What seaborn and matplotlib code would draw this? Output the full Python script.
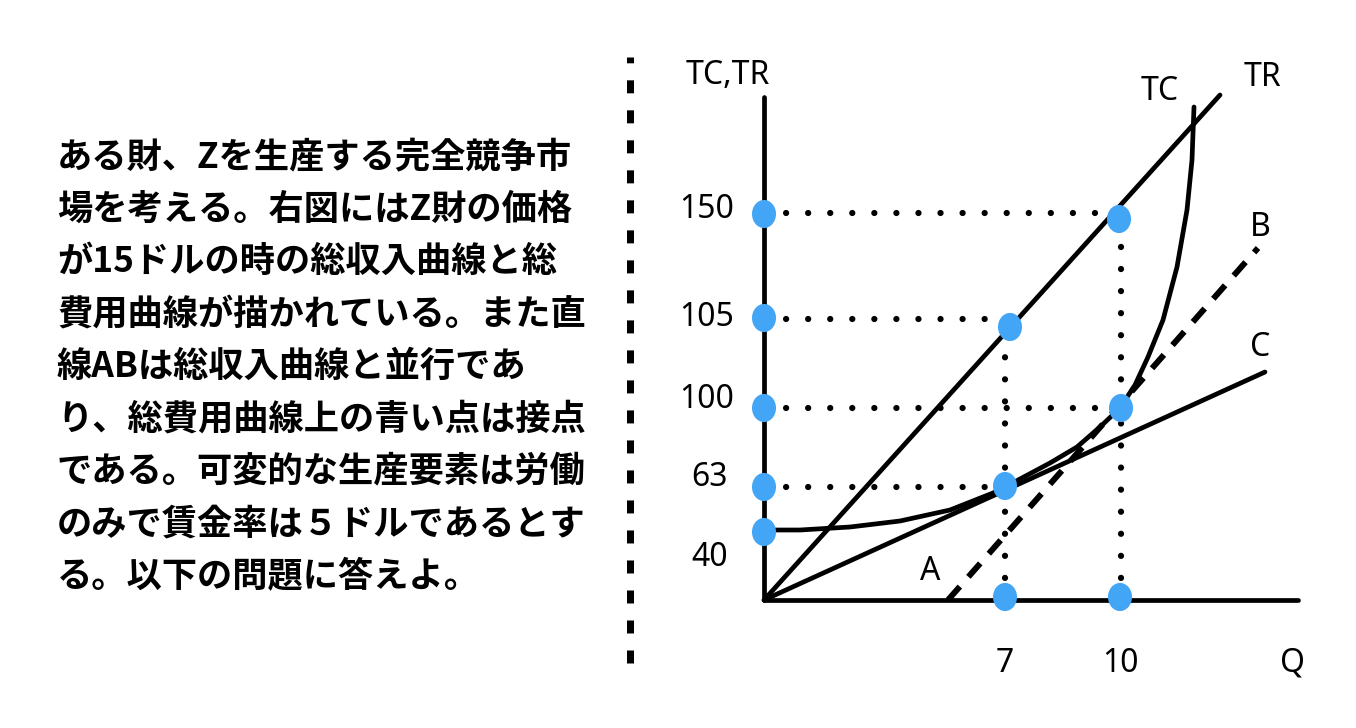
import numpy as np
import pandas as pd
import seaborn as sns
import matplotlib
matplotlib.use("Agg")
import matplotlib.pyplot as plt
from matplotlib.path import Path
from matplotlib.transforms import Affine2D

# ---------------- data (schematic units) ----------------
text_lines = [
    "ある財、Zを生産する完全競争市",
    "場を考える。右図にはZ財の価格",
    "が15ドルの時の総収入曲線と総",
    "費用曲線が描かれている。また直",
    "線ABは総収入曲線と並行であ",
    "り、総費用曲線上の青い点は接点",
    "である。可変的な生産要素は労働",
    "のみで賃金率は５ドルであるとす",
    "る。以下の問題に答えよ。",
]

# Total cost curve (schematic)
tc_x = [0, 36, 86, 136, 186, 229, 241, 286, 313, 336, 356, 371, 384, 399, 413, 423, 428, 430]
tc_y = [70, 70, 73, 79, 90, 107, 113, 137, 153, 173, 192, 215, 243, 280, 333, 390, 440, 493]

# Total revenue line (from origin)
tr_x = [0, 456]
tr_y = [0, 505]

# Line C (ray from origin tangent to TC)
c_x = [0, 501]
c_y = [0, 228]

# Line AB (parallel to TR, tangent to TC)
ab_x = [184, 494]
ab_y = [0, 352]

# Axes extents
yaxis_top = 503
xaxis_right = 534

# Value labels on vertical axis and their schematic positions
y_tick_labels = ["150", "105", "100", "63", "40"]
y_tick_label_pos = [390, 282, 200, 123, 43]
y_dot_pos = [386, 282, 192, 113, 68]

# Value labels on horizontal axis
x_tick_labels = ["7", "10"]
x_tick_pos = [241, 356]

# Points on the curves
curve_dot_x = [355, 246, 357, 241]
curve_dot_y = [381, 273, 192, 114]

# Guide (dotted) lines: horizontal (y, x_end) and vertical (x, y_end)
h_guides_y = [387, 281, 192, 113]
h_guides_xend = [356, 246, 357, 241]
v_guides_x = [241, 357]
v_guides_yend = [275, 384]

# ---------------- style ----------------
sns.set_theme(style="white")
plt.rcParams["font.family"] = ["Noto Sans", "Noto Sans CJK JP", "DejaVu Sans"]

BLUE = "#42A5F5"
LW = 3.4

fig = plt.figure(figsize=(13.56, 7.28), dpi=100)
ax = fig.add_axes([0, 0, 1, 1])
ax.set_xlim(-764, 592)
ax.set_ylim(-128, 600)
ax.axis("off")

# left text block
for i, line in enumerate(text_lines):
    fig.text(57 / 1356, 1 - (157 + i * 52.4) / 728, line, fontsize=25.4,
             fontweight="bold", ha="left", va="center", color="black",
             family=["Noto Sans CJK JP", "DejaVu Sans"])

# separator dashed line
sns.lineplot(x=[-134, -134], y=[-63, 543], ax=ax, color="black", lw=5.04,
             linestyle=(0, (1.857, 2.43)), solid_capstyle="butt",
             dash_capstyle="butt", estimator=None, sort=False)

# axes lines
sns.lineplot(x=[0, 0], y=[0, yaxis_top], ax=ax, color="black", lw=LW,
             estimator=None, sort=False)
sns.lineplot(x=[0, xaxis_right], y=[0, 0], ax=ax, color="black", lw=LW,
             estimator=None, sort=False)

# dotted guides
dot_style = dict(color="black", lw=4.5, linestyle=(0, (0.01, 3.52)),
                 dash_capstyle="round", estimator=None, sort=False)
for yv, xe in zip(h_guides_y, h_guides_xend):
    sns.lineplot(x=[0, xe], y=[yv, yv], ax=ax, **dot_style)
for xv, ye in zip(v_guides_x, v_guides_yend):
    sns.lineplot(x=[xv, xv], y=[0, ye], ax=ax, **dot_style)

# curves
sns.lineplot(x=tr_x, y=tr_y, ax=ax, color="black", lw=LW, estimator=None, sort=False)
sns.lineplot(x=c_x, y=c_y, ax=ax, color="black", lw=LW, estimator=None, sort=False)
sns.lineplot(x=tc_x, y=tc_y, ax=ax, color="black", lw=LW, estimator=None, sort=False)
sns.lineplot(x=ab_x, y=ab_y, ax=ax, color="black", lw=4.3,
             linestyle=(0, (3.0, 2.17)), dash_capstyle="butt",
             estimator=None, sort=False)

# blue points (slightly tall ellipses)
ell = Path.unit_circle().transformed(Affine2D().scale(1.0, 1.17))
dots = pd.DataFrame({
    "x": [0] * len(y_dot_pos) + curve_dot_x + x_tick_pos,
    "y": y_dot_pos + curve_dot_y + [3] * len(x_tick_pos),
})
sns.scatterplot(data=dots, x="x", y="y", ax=ax, marker=ell, s=410,
                color=BLUE, edgecolor="none", linewidth=0, zorder=10)

# labels
lab = dict(fontsize=23, color="black", ha="center", va="center")
ax.text(-36, 525, "TC,TR", **lab)
for t, p in zip(y_tick_labels, y_tick_label_pos):
    ax.text(-57 if len(t) == 3 else -54, p, t, **lab)
for t, p in zip(x_tick_labels, x_tick_pos):
    ax.text(p, -63, t, **lab)
ax.text(529, -63, "Q", **lab)
ax.text(396, 508, "TC", **lab)
ax.text(498, 523, "TR", **lab)
ax.text(496, 373, "B", **lab)
ax.text(496, 253, "C", **lab)
ax.text(166, 28, "A", **lab)

fig.savefig("out.png", dpi=100)
